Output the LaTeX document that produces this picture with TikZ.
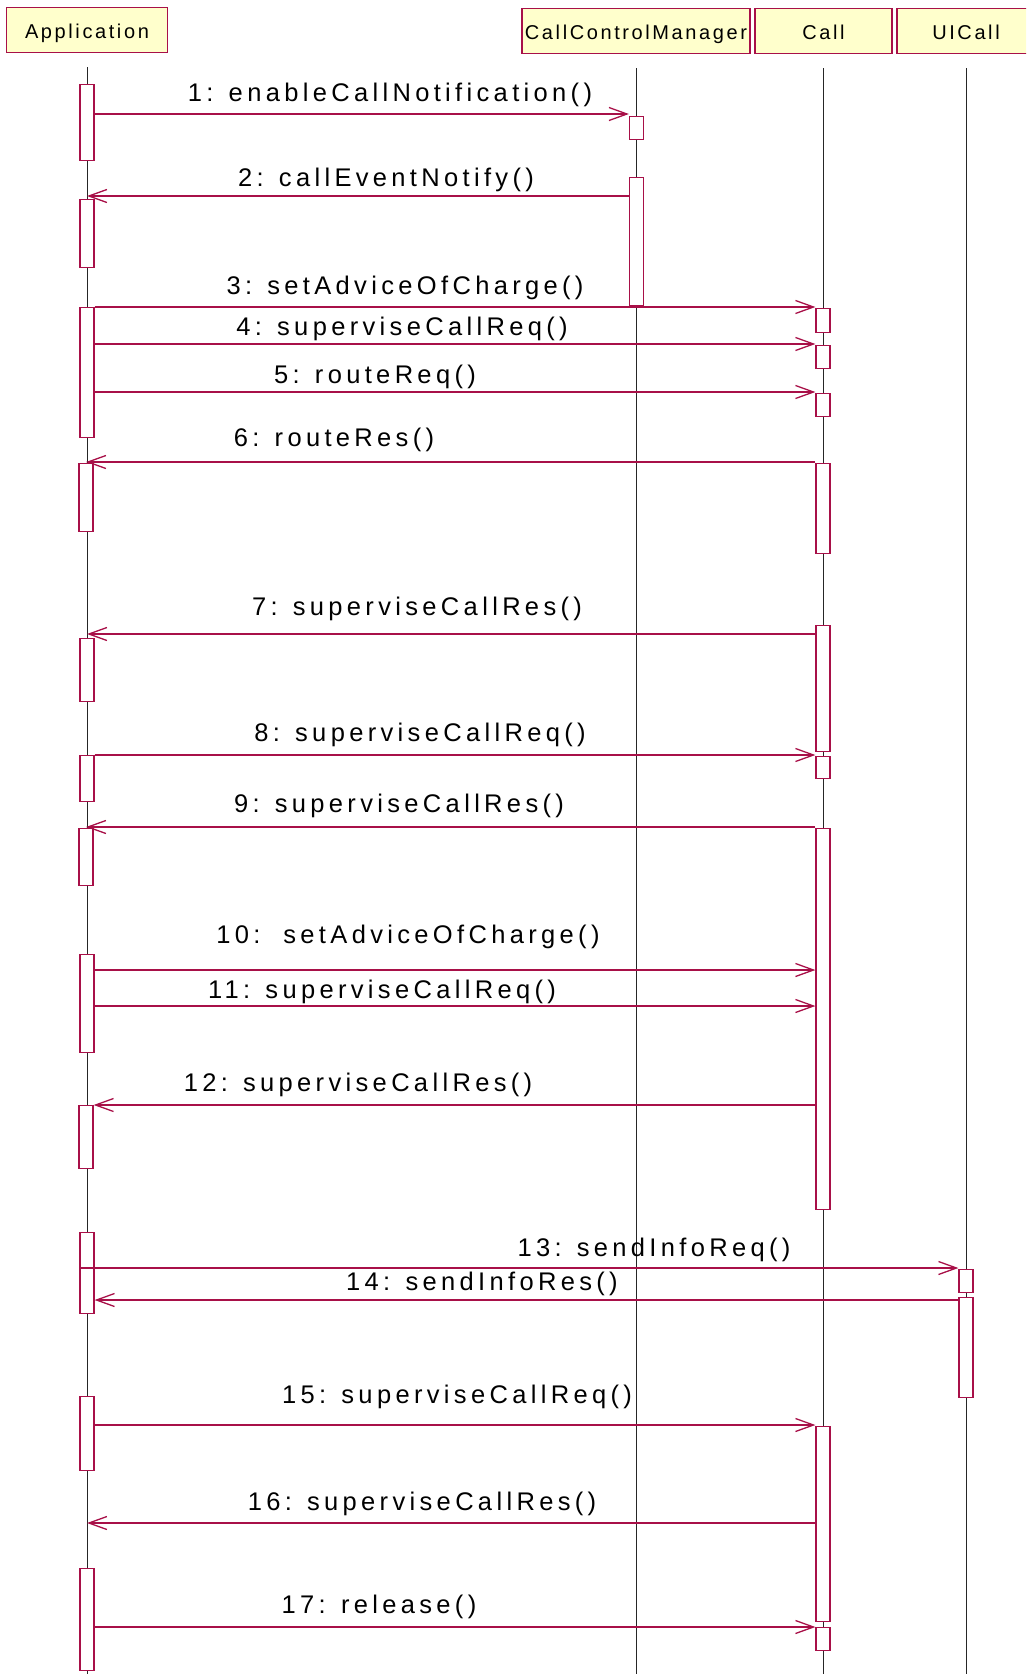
\documentclass[tikz,border=0pt]{standalone}
\usepackage{fontspec}
\usetikzlibrary{arrows.meta}
\newfontfamily\msgfont[LetterSpace=17]{Liberation Sans}
\newfontfamily\headfont[LetterSpace=13]{Liberation Sans}
\definecolor{umlred}{RGB}{168,16,72}
\definecolor{umlyellow}{RGB}{255,255,204}
\tikzset{
	head/.style={draw=umlred, fill=umlyellow, line width=1.2pt, inner sep=0pt, minimum height=45pt, text height=20pt, text depth=4pt, font=\headfont\fontsize{20}{24}\selectfont},
	life/.style={line width=0.8pt, black!85},
	act/.style={draw=umlred, fill=white, line width=1.2pt, inner sep=0pt, minimum width=14pt, anchor=north},
	msg/.style={umlred, line width=1.3pt, -{Straight Barb[length=18pt, width=13pt]}},
	lbl/.style={anchor=base, inner sep=0pt, font=\msgfont\fontsize{25.5}{30}\selectfont}
}
\begin{document}
\begin{tikzpicture}[x=1pt, y=-1pt]
			\useasboundingbox (0,0) rectangle (1026,1674);
			\clip (0,0) rectangle (1026,1674);
		
			\node[head, minimum width=161pt] (app) at (87,30) {Application};
			\node[head, minimum width=228pt] (ccm) at (636,31) {CallControlManager};
			\node[head, minimum width=137pt] (call) at (823.5,31) {Call};
			\node[head, minimum width=138pt] (uicall) at (966,31) {UICall};
		
			\foreach \obj in {app, ccm, call, uicall}
				\draw[life] ([yshift=-14pt]\obj.south) -- (\obj.south |- 0,1674);
		
			% Application
			\node[act, minimum height=76pt] (a1) at (87,84) {};
			\node[act, minimum height=68pt] (a2) at (87,199) {};
			\node[act, minimum height=130pt] (a3) at (87,307) {};
			\node[act, minimum height=68pt] (a4) at (86,463) {};
			\node[act, minimum height=63pt] (a5) at (87,638) {};
			\node[act, minimum height=46pt] (a6) at (87,755) {};
			\node[act, minimum height=57pt] (a7) at (86,828) {};
			\node[act, minimum height=98pt] (a8) at (87,954) {};
			\node[act, minimum height=63pt] (a9) at (86,1105) {};
			\node[act, minimum height=81pt] (a10) at (87,1232) {};
			\node[act, minimum height=74pt] (a11) at (87,1396) {};
			\node[act, minimum height=102pt] (a12) at (87,1568) {};
			% CallControlManager
			\node[act, minimum height=23pt] (c1) at (636.5,116) {};
			\node[act, minimum height=128pt] (c2) at (636.5,177) {};
			% Call
			\node[act, minimum height=24pt] (k1) at (823,308) {};
			\node[act, minimum height=23pt] (k2) at (823,345) {};
			\node[act, minimum height=23pt] (k3) at (823,393) {};
			\node[act, minimum height=90pt] (k4) at (823,463) {};
			\node[act, minimum height=126pt] (k5) at (823,625) {};
			\node[act, minimum height=22pt] (k6) at (823,756) {};
			\node[act, minimum height=381pt] (k7) at (823,828) {};
			\node[act, minimum height=195pt] (k8) at (823,1426) {};
			\node[act, minimum height=23pt] (k9) at (823,1627) {};
			% UICall
			\node[act, minimum height=23pt] (u1) at (966,1269) {};
			\node[act, minimum height=100pt] (u2) at (966,1297) {};
		
			\draw[msg] (a1.east |- 0,114) -- (c1.west |- 0,114);
			\draw[msg] (c2.west |- 0,196) -- (a2.north |- 0,196);
			\draw[msg] (a3.east |- 0,307) -- (k1.west |- 0,307);
			\draw[msg] (a3.east |- 0,344) -- (k2.west |- 0,344);
			\draw[msg] (a3.east |- 0,392) -- (k3.west |- 0,392);
			\draw[msg] (k4.west |- 0,462) -- (a4.north |- 0,462);
			\draw[msg] (k5.west |- 0,634) -- (a5.north |- 0,634);
			\draw[msg] (a6.east |- 0,755) -- (k6.west |- 0,755);
			\draw[msg] (k7.west |- 0,827) -- (a7.north |- 0,827);
			\draw[msg] (a8.east |- 0,970) -- (k7.west |- 0,970);
			\draw[msg] (a8.east |- 0,1006) -- (k7.west |- 0,1006);
			\draw[msg] (k7.west |- 0,1105) -- (a9.east |- 0,1105);
			\draw[msg] (a10.west |- 0,1268) -- (u1.west |- 0,1268);
			\draw[msg] (u2.west |- 0,1300) -- (a10.east |- 0,1300);
			\draw[msg] (a11.east |- 0,1425) -- (k8.west |- 0,1425);
			\draw[msg] (k8.west |- 0,1523) -- (a11.south |- 0,1523);
			\draw[msg] (a12.east |- 0,1627) -- (k9.west |- 0,1627);
		
			\node[lbl] (l1) at (390,101) {1: enableCallNotification()};
			\node[lbl] (l2) at (386,186.5) {2: callEventNotify()};
			\node[lbl] (l3) at (405,294) {3: setAdviceOfCharge()};
			\node[lbl] (l4) at (402,335.5) {4: superviseCallReq()};
			\node[lbl] (l5) at (375,383) {5: routeReq()};
			\node[lbl] (l6) at (334,446) {6: routeRes()};
			\node[lbl] (l7) at (417,615) {7: superviseCallRes()};
			\node[lbl] (l8) at (420,741.5) {8: superviseCallReq()};
			\node[lbl] (l9) at (399,812.5) {9: superviseCallRes()};
			\node[lbl] (l10) at (408,943) {10:\ \ setAdviceOfCharge()};
			\node[lbl] (l11) at (382,998) {11: superviseCallReq()};
			\node[lbl] (l12) at (358,1091.5) {12: superviseCallRes()};
			\node[lbl] (l13) at (654,1256.5) {13: sendInfoReq()};
			\node[lbl] (l14) at (482,1290) {14: sendInfoRes()};
			\node[lbl] (l15) at (457,1403) {15: superviseCallReq()};
			\node[lbl] (l16) at (422,1510) {16: superviseCallRes()};
			\node[lbl] (l17) at (379,1613) {17: release()};
		\end{tikzpicture}
\end{document}
